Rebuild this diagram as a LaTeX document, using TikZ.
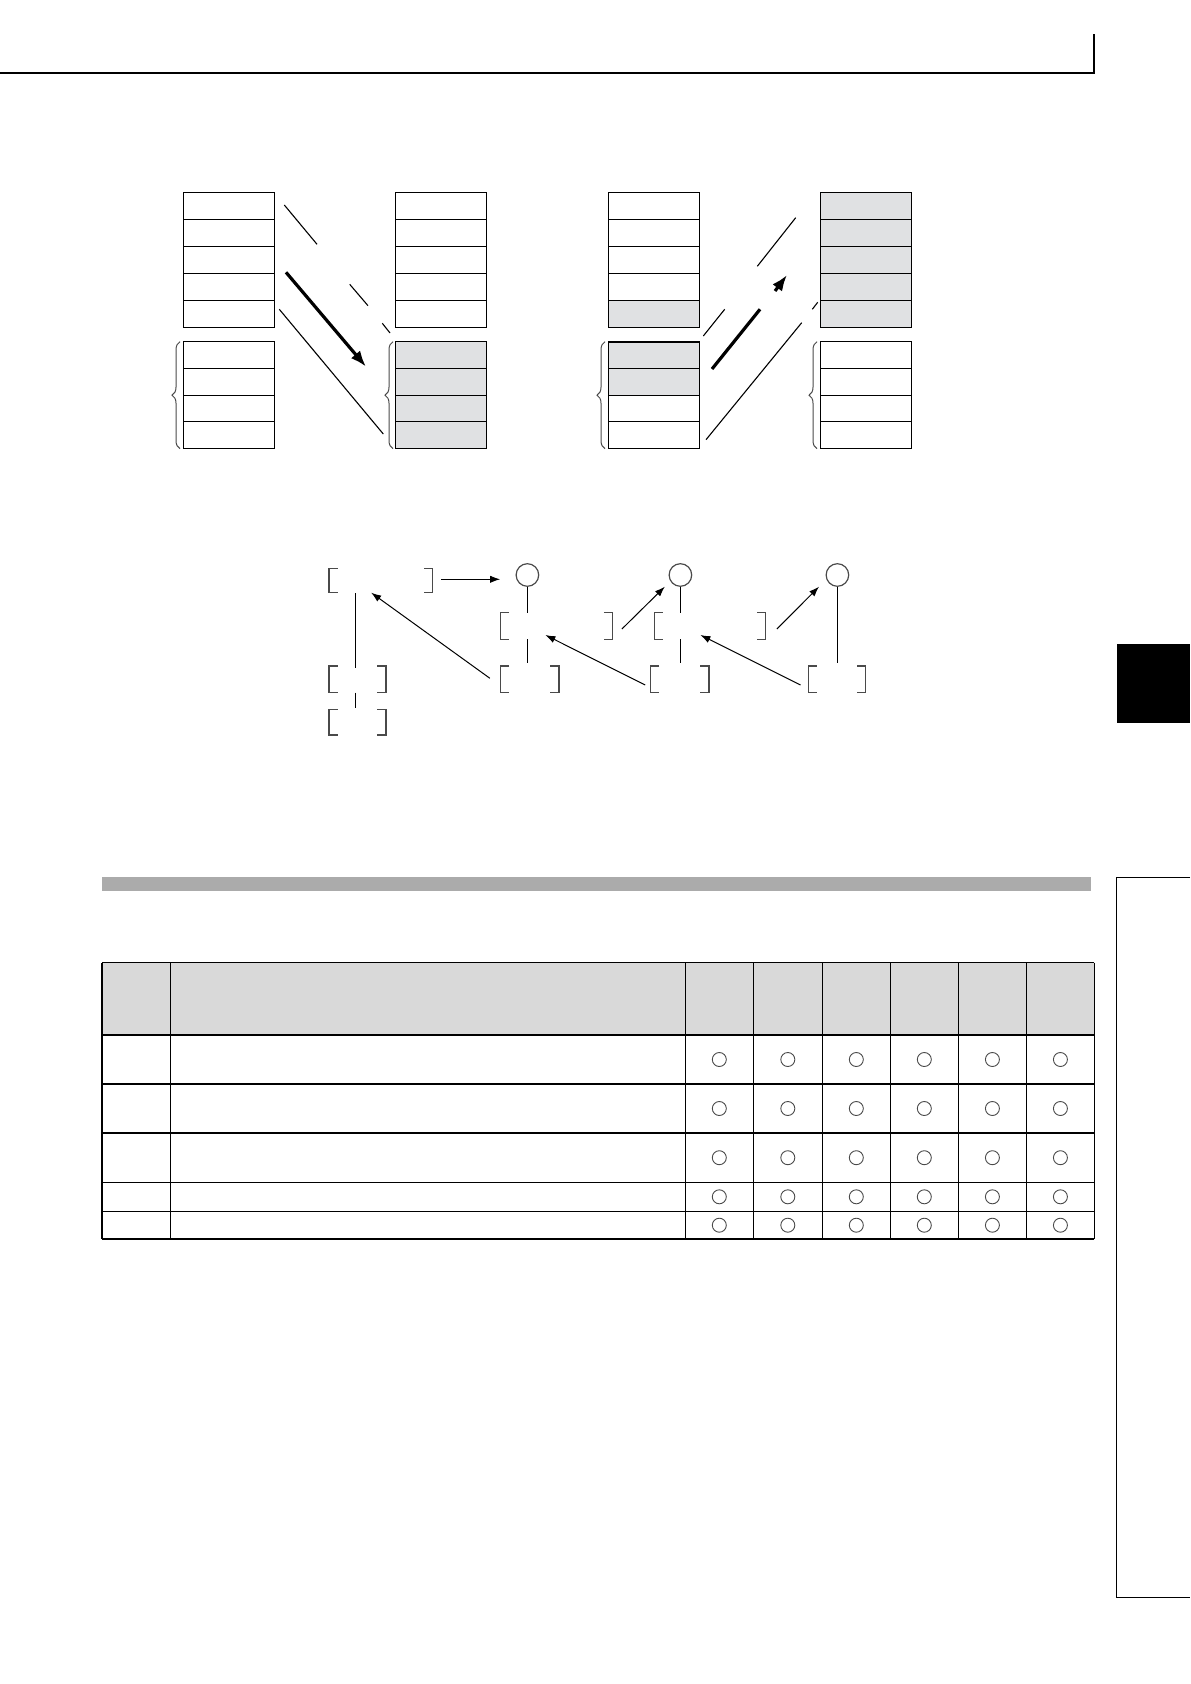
\documentclass[tikz,border=0pt]{standalone}
\usetikzlibrary{arrows.meta,decorations.pathreplacing}
\definecolor{cellgray}{HTML}{E0E1E3}
\definecolor{headgray}{HTML}{D9D9D9}
\definecolor{bargray}{HTML}{ABABAB}
\definecolor{edgegray}{HTML}{4A4A4A}
\tikzset{
  cellw/.style={draw=black, line width=0.5pt, fill=white, minimum width=45.5pt, minimum height=13.4pt, inner sep=0pt, outer sep=0pt},
  cellg/.style={cellw, fill=cellgray},
  thinln/.style={line width=0.55pt, black},
  thickarr/.style={line width=1.6pt, black},
  brk/.style={line width=0.75pt, edgegray},
  conn/.style={line width=0.5pt, black, -{Latex[length=5pt,width=3.6pt]}},
  tbl/.style={line width=0.75pt, black},
  okmark/.style={draw=edgegray, line width=0.45pt, circle, minimum size=7pt, inner sep=0pt},
  bigc/.style={draw=edgegray, line width=0.6pt, circle, minimum size=11.3pt, inner sep=0pt},
  bracebar/.style={decorate, decoration={brace, amplitude=4pt}, line width=0.5pt, edgegray}
}
\begin{document}
\begin{tikzpicture}[x=0.5pt, y=-0.5pt]
\useasboundingbox (0,0) rectangle (1190,1684);
% header rule
\coordinate (h0) at (0,73);
\coordinate (h1) at (1094,73);
\coordinate (h2) at (1094,34);
\draw[line width=0.7pt] (h0) -- (h1) -- (h2);

% ---------- left diagram stacks ----------
\foreach \i in {1,...,5} {
  \node[cellw] (A\i) at (228.8, {192.3+27*(\i-0.5)}) {};
  \node[cellw] (B\i) at (441.0, {192.3+27*(\i-0.5)}) {};
}
\foreach \i in {1,...,4} {
  \node[cellw] (Ap\i) at (228.8, {341.7+26.75*(\i-0.5)}) {};
  \node[cellg] (Bp\i) at (441.0, {341.7+26.75*(\i-0.5)}) {};
}
% ---------- right diagram stacks ----------
\foreach \i in {1,...,4} {
  \node[cellw] (C\i) at (653.8, {192.3+27*(\i-0.5)}) {};
}
\node[cellg] (C5) at (653.8, {192.3+27*4.5}) {};
\foreach \i in {1,...,5} {
  \node[cellg] (D\i) at (865.8, {192.3+27*(\i-0.5)}) {};
}
\node[cellg] (Cp1) at (653.8, {341.7+26.75*0.5}) {};
\node[cellg] (Cp2) at (653.8, {341.7+26.75*1.5}) {};
\node[cellw] (Cp3) at (653.8, {341.7+26.75*2.5}) {};
\node[cellw] (Cp4) at (653.8, {341.7+26.75*3.5}) {};
\draw[line width=1.1pt] (Cp1.north west) -- (Cp1.north east);
\foreach \i in {1,...,4} {
  \node[cellw] (Dp\i) at (865.8, {341.7+26.75*(\i-0.5)}) {};
}
% braces
\draw[bracebar] (180,448.7) -- (180,341.7);
\draw[bracebar] (393,448.7) -- (393,341.7);
\draw[bracebar] (605,448.7) -- (605,341.7);
\draw[bracebar] (817,448.7) -- (817,341.7);

% left diagram connectors
\coordinate (l1a) at (284.3,205);   \coordinate (l1b) at (317,244.3);
\coordinate (l1c) at (349.7,284.3); \coordinate (l1d) at (368,305.7);
\coordinate (l1e) at (382.3,323.3); \coordinate (l1f) at (390,333);
\draw[thinln] (l1a) -- (l1b) (l1c) -- (l1d) (l1e) -- (l1f);
\coordinate (ta) at (286,272.3); \coordinate (tb) at (366,366.7);
\draw[thickarr, -{Latex[length=8pt,width=6pt]}] (ta) -- (tb);
\coordinate (l2a) at (279.3,309.3); \coordinate (l2b) at (383.3,434);
\draw[thinln] (l2a) -- (l2b);

% right diagram connectors
\coordinate (r1a) at (795.7,217.7); \coordinate (r1b) at (757.3,266.3);
\coordinate (r1c) at (724.7,309.3); \coordinate (r1d) at (703.3,336);
\draw[thinln] (r1a) -- (r1b) (r1c) -- (r1d);
\coordinate (rta) at (712,369); \coordinate (rtb) at (760,309.3);
\coordinate (rtc) at (775,291); \coordinate (rtd) at (787,275);
\draw[thickarr] (rta) -- (rtb);
\draw[thickarr, -{Latex[length=8pt,width=6pt]}] (rtc) -- (rtd);
\coordinate (r2a) at (706,439.7); \coordinate (r2b) at (801.7,322.7);
\coordinate (r2c) at (812.3,309.3); \coordinate (r2d) at (817.7,302.3);
\draw[thinln] (r2a) -- (r2b) (r2c) -- (r2d);

% ---------- middle diagram ----------
\newcommand{\brkpair}[5]{% name, xl, xr, ytop, ybot
  \draw[brk] ({#2+8.4},#4) -- (#2,#4) -- (#2,#5) -- ({#2+8.4},#5);
  \draw[brk] ({#3-8.4},#4) -- (#3,#4) -- (#3,#5) -- ({#3-8.4},#5);
  \coordinate (#1) at ({(#2+#3)/2},{(#4+#5)/2});
}
\brkpair{g1}{329.1}{432.5}{568.3}{592.7}
\brkpair{g2}{500.6}{612.3}{612.7}{639.3}
\brkpair{g3}{654.4}{765.4}{612.7}{639.3}
\brkpair{g4}{329.1}{385.8}{666}{692.7}
\brkpair{g5}{329.1}{385.8}{709.3}{735}
\brkpair{g6}{500.6}{558.8}{666}{692.7}
\brkpair{g7}{650.6}{708.8}{666}{692.7}
\brkpair{g8}{808.3}{865.7}{666}{692.7}

\node[bigc] (c1) at (527.4,575) {};
\node[bigc] (c2) at (680.4,575) {};
\node[bigc] (c3) at (837.4,575) {};

% vertical links
\draw[thinln] (c1.south) -- (527.4,612.7);
\draw[thinln] (527.4,639.3) -- (527.4,663.3);
\draw[thinln] (c2.south) -- (680.4,612.7);
\draw[thinln] (680.4,639.3) -- (680.4,663.3);
\draw[thinln] (c3.south) -- (837.4,663.3);
\draw[thinln] (355.2,593.3) -- (355.2,668.3);
\draw[thinln] (355.2,692.7) -- (355.2,708.3);

% arrows
\coordinate (m1a) at (441.3,579.3); \coordinate (m1b) at (500.2,579.3);
\draw[conn] (m1a) -- (m1b);
\coordinate (m2a) at (621.9,629); \coordinate (m2b) at (664.8,586.7);
\draw[conn] (m2a) -- (m2b);
\coordinate (m3a) at (776.9,629); \coordinate (m3b) at (819,586.7);
\draw[conn] (m3a) -- (m3b);
\coordinate (m4a) at (489.9,678.3); \coordinate (m4b) at (371.2,592.7);
\draw[conn] (m4a) -- (m4b);
\coordinate (m5a) at (645.2,685); \coordinate (m5b) at (545.4,635);
\draw[conn] (m5a) -- (m5b);
\coordinate (m6a) at (800.6,685); \coordinate (m6b) at (700.4,635);
\draw[conn] (m6a) -- (m6b);

% ---------- section bar ----------
\fill[bargray] (102,876.5) rectangle (1091,890.5);

% ---------- table ----------
\fill[headgray] (102,962.5) rectangle (1094.3,1035);
\foreach \y in {962.5,1035,1084,1133,1182.3,1211.3,1239} {
  \draw[tbl] (102,\y) -- (1094.3,\y);
}
\foreach \x in {102,170.3,685.3,753.3,822.3,890.3,958.3,1026.5,1094.3} {
  \draw[tbl] (\x,962.5) -- (\x,1239);
}
\foreach \r/\y in {1/1059.5,2/1108.5,3/1157.7,4/1196.8,5/1225.2} {
  \foreach \c/\x in {1/719.3,2/787.8,3/856.3,4/924.3,5/992.4,6/1060.4} {
    \node[okmark] (o\r\c) at (\x,\y) {};
  }
}

% ---------- side tabs ----------
\fill[black] (1116.7,644) rectangle (1190,722.7);
\draw[line width=0.75pt] (1190,877.3) -- (1116.5,877.3) -- (1116.5,1597.3) -- (1190,1597.3);
\end{tikzpicture}
\end{document}
